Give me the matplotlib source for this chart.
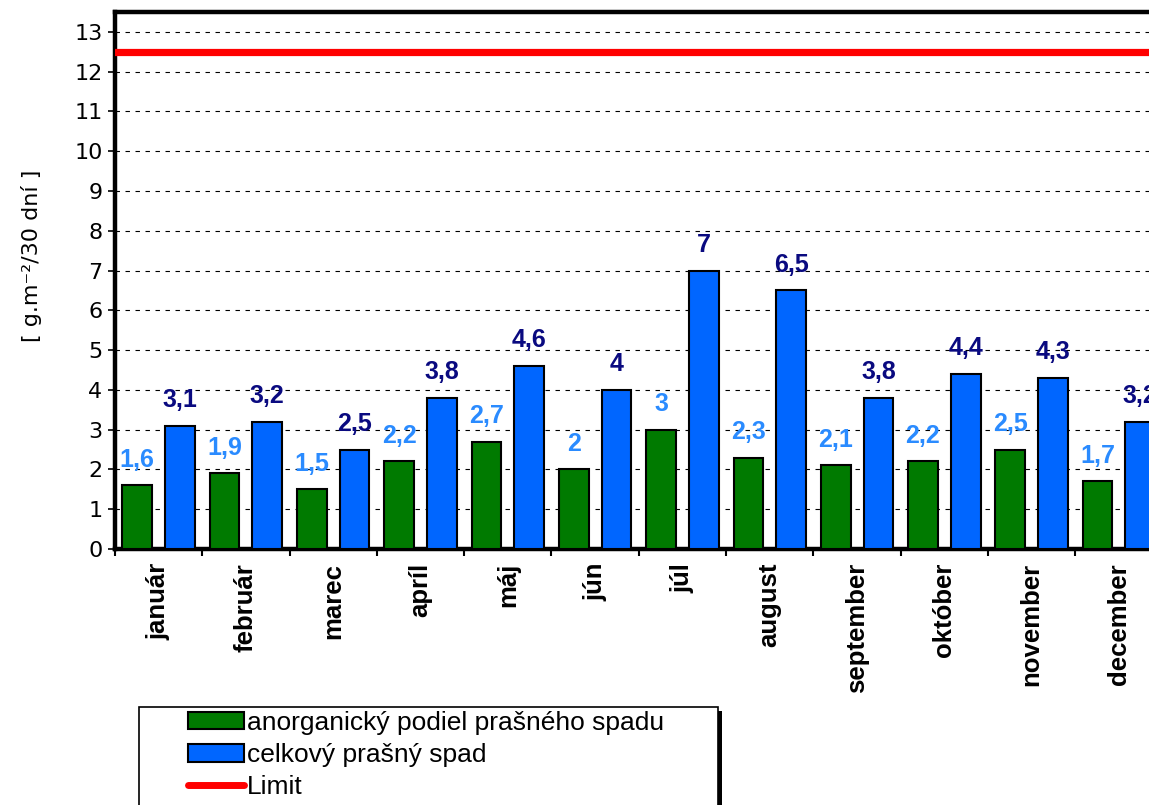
import matplotlib
matplotlib.use("Agg")
import matplotlib.pyplot as plt
import numpy as np
from matplotlib.patches import Patch, Rectangle
from matplotlib.lines import Line2D

months = ["január", "február", "marec", "apríl", "máj", "jún", "júl",
          "august", "september", "október", "november", "december"]
anorganic = [1.6, 1.9, 1.5, 2.2, 2.7, 2.0, 3.0, 2.3, 2.1, 2.2, 2.5, 1.7]
total = [3.1, 3.2, 2.5, 3.8, 4.6, 4.0, 7.0, 6.5, 3.8, 4.4, 4.3, 3.2]
limit_value = 12.5
legend_labels = ["anorganický podiel prašného spadu", "celkový prašný spad", "Limit"]
y_ticks = list(range(0, 14))

GREEN = "#007A00"
BLUE = "#0066FF"
LBLUE = "#2A8BFF"
NAVY = "#0A0A80"

W, H = 1149, 805
fig = plt.figure(figsize=(W / 100, H / 100), dpi=100)

def px(x, y):
    return x / W, 1 - y / H

left, top = 115, 12
bottom = 549
right = 115 + 12 * 87.3
ax = fig.add_axes([left / W, 1 - bottom / H, (right - left) / W, (bottom - top) / H])

x = np.arange(len(months))
bw = 0.34
off = 0.245
ax.bar(x - off, anorganic, bw, color=GREEN, edgecolor="black", linewidth=1.5, zorder=3)
ax.bar(x + off, total, bw, color=BLUE, edgecolor="black", linewidth=1.5, zorder=3)
ax.axhline(limit_value, color="#FF0000", linewidth=5.2, zorder=4)

def fmt(v):
    return ("%g" % v).replace(".", ",")

for xi, v in zip(x, anorganic):
    ax.annotate(fmt(v), (xi - off, v), xytext=(0, 13.5), textcoords="offset points",
                ha="center", va="baseline", color=LBLUE, fontsize=18,
                fontweight="bold", family="Liberation Sans", zorder=5,
                annotation_clip=False)
for xi, v in zip(x, total):
    ax.annotate(fmt(v), (xi + off, v), xytext=(0, 13.5), textcoords="offset points",
                ha="center", va="baseline", color=NAVY, fontsize=18,
                fontweight="bold", family="Liberation Sans", zorder=5,
                annotation_clip=False)

ax.set_xlim(-0.5, 11.5)
ax.set_ylim(0, 13.5)
ax.set_yticks(y_ticks)
ax.set_yticklabels([str(t) for t in y_ticks], fontsize=16, family="DejaVu Sans")
ax.tick_params(axis="y", direction="out", length=5, width=1.2, pad=4)

ax.set_xticks(x)
ax.set_xticklabels(months, rotation=90, fontsize=18.5, fontweight="bold",
                   family="Liberation Sans", va="top", ha="center")
ax.set_xticks(np.arange(-0.5, 12.0, 1.0), minor=True)
ax.tick_params(axis="x", which="major", length=0, pad=10)
ax.tick_params(axis="x", which="minor", direction="out", length=5, width=1.5)

ax.yaxis.grid(True, color="black", linestyle=(0, (4, 5)), linewidth=0.8, zorder=0)
ax.set_axisbelow(True)

for s in ["left", "top", "bottom"]:
    ax.spines[s].set_linewidth(3.2)
    ax.spines[s].set_color("black")
ax.spines["right"].set_visible(False)

fig.text(*px(32, 256), "[ g.m⁻²/30 dní ]", rotation=90, ha="center", va="center",
         fontsize=16, family="DejaVu Sans")

# legend frame with shadow
lx0, ly0, lx1 = 139, 707, 718
sh = 4
fig.add_artist(Rectangle(px(lx0 + sh, H + 20), (lx1 - lx0) / W, (H + 20 - ly0 - sh) / H,
                         transform=fig.transFigure, facecolor="black", edgecolor="none",
                         zorder=1))
fig.add_artist(Rectangle(px(lx0, H + 20), (lx1 - lx0) / W, (H + 20 - ly0) / H,
                         transform=fig.transFigure, facecolor="white", edgecolor="black",
                         linewidth=1.2, zorder=2))

handles = [Patch(facecolor=GREEN, edgecolor="black", linewidth=1.5),
           Patch(facecolor=BLUE, edgecolor="black", linewidth=1.5),
           Line2D([], [], color="#FF0000", linewidth=5, solid_capstyle="round")]
leg = fig.legend(handles, legend_labels, loc="upper left", bbox_to_anchor=px(188, 711),
                 frameon=False, borderpad=0, borderaxespad=0,
                 prop={"family": "Liberation Sans", "size": 19},
                 handlelength=2.12, handleheight=0.64, handletextpad=0.11,
                 labelspacing=0.31)
leg.set_zorder(3)

fig.savefig("out.png", dpi=100)
